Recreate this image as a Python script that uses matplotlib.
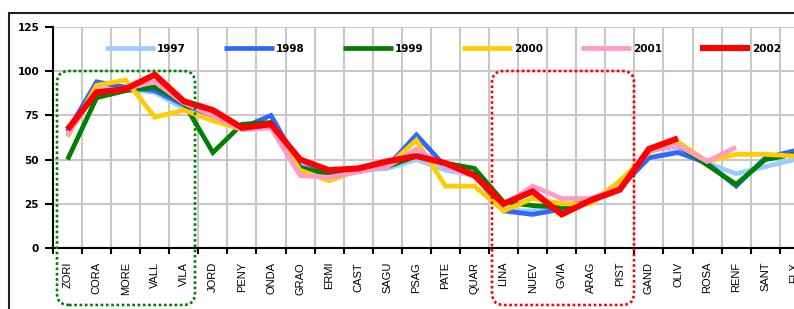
import numpy as np
import matplotlib
matplotlib.use("Agg")
import matplotlib.pyplot as plt
from matplotlib.patches import FancyBboxPatch, Rectangle
from matplotlib.transforms import IdentityTransform

nan = np.nan
categories = ['ZORI', 'CORA', 'MORE', 'VALL', 'VILA', 'JORD', 'PENY', 'ONDA', 'GRAO',
              'ERMI', 'CAST', 'SAGU', 'PSAG', 'PATE', 'QUAR', 'LINA', 'NUEV', 'GVIA',
              'ARAG', 'PIST', 'GAND', 'OLIV', 'ROSA', 'RENF', 'SANT', 'ELX']

s1997 = [65, 91, 90, 88, 79, 74, 67, 68, 42, 40, 44, 45, 50, 44, 41, 21, 21, 24, 27, 34, 51, 55, 48, 42, 46, 50]
s1998 = [66, 94, 91, 89, 81, 75, 68, 75, 46, 42, 44, 46, 64, 46, 42, 21, 19, 22, 27, 34, 51, 54, 48, 35, 51, 55]
s1999 = [50, 85, 89, 91, 82, 54, 70, 71, 45, 42, 44, 46, 52, 48, 45, 26, 24, 23, 27, 34, 55, 58, 47, 36, 50, 53]
s2000 = [63, 92, 95, 74, 78, 72, 67, 69, 44, 38, 44, 46, 61, 35, 35, 21, 28, 25, 25, 38, 54, 60, 49, 53, 53, 52]
s2001 = [64, 89, 90, 94, 82, 75, 67, 68, 41, 40, 43, 46, 56, 46, 41, 24, 35, 28, 28, 34, 55, 58, 49, 57, nan, nan]
s2002 = [67, 88, 90, 98, 83, 78, 68, 70, 50, 44, 45, 49, 52, 48, 41, 25, 32, 19, 27, 33, 56, 62, nan, nan, nan, nan]

series_names = ['1997', '1998', '1999', '2000', '2001', '2002']
series_vals = [s1997, s1998, s1999, s2000, s2001, s2002]
colors = ['#99ccff', '#3366ff', '#008000', '#ffcc00', '#ff99cc', '#ff0000']
widths = [3.4, 3.4, 3.4, 3.4, 3.4, 4.4]
yticks = [0, 25, 50, 75, 100, 125]

W, H = 794, 309
fig = plt.figure(figsize=(W / 100, H / 100), dpi=100)
fig.patch.set_facecolor('white')

n = len(categories)
x0, top, bottom = 53, 27, 248
cw = 29.07
ax = fig.add_axes([x0 / W, 1 - bottom / H, n * cw / W, (bottom - top) / H])
x = np.arange(n)
for name, vals, c, lw in zip(series_names, series_vals, colors, widths):
    ax.plot(x, vals, color=c, lw=lw, label=name, solid_joinstyle='miter', solid_capstyle='butt')

ax.set_xlim(-0.5, n - 0.5)
ax.set_ylim(0, 125)
ax.set_yticks(yticks)
ax.set_yticklabels([str(v) for v in yticks], fontsize=7.5, fontweight='bold', family='DejaVu Sans')
ax.set_xticks(x)
ax.set_xticklabels(categories, rotation=90, fontsize=8, family='Liberation Sans')
ax.set_xticks(np.arange(n + 1) - 0.5, minor=True)
ax.tick_params(axis='x', which='major', length=0, pad=10)
ax.tick_params(axis='x', which='minor', length=4, width=1.5, direction='out', color='black')
ax.tick_params(axis='y', length=6, width=1.5, direction='out', pad=4)
ax.grid(True, which='minor', axis='x', color='#c8c8c8', lw=1.5)
ax.grid(True, which='major', axis='y', color='#c8c8c8', lw=1.5)
ax.set_axisbelow(True)
for s in ['top', 'right']:
    ax.spines[s].set_visible(False)
for s in ['left', 'bottom']:
    ax.spines[s].set_linewidth(1.5)
    ax.spines[s].set_color('black')

leg = ax.legend(ncol=6, loc='center left', bbox_to_anchor=(105 / W, 1 - 49 / H),
                bbox_transform=fig.transFigure, frameon=False, handlelength=4.8,
                handletextpad=0.2, columnspacing=3.65, borderpad=0, borderaxespad=0,
                prop={'size': 7.5, 'weight': 'bold', 'family': 'DejaVu Sans'})

# Outer frame (pixel coordinates, origin bottom-left)
frame = Rectangle((9, -20), 900, H - 13 + 20, transform=IdentityTransform(),
                  fill=False, ec='#202020', lw=1.5, clip_on=False)
fig.add_artist(frame)

# Dotted rounded highlight boxes
def hbox(xl, xr, yt, yb, color):
    p = FancyBboxPatch((xl, H - yb), xr - xl, yb - yt,
                       boxstyle='round,pad=0,rounding_size=12',
                       transform=IdentityTransform(), fill=False, ec=color,
                       lw=1.9, linestyle=(0, (1, 1)), capstyle='butt', clip_on=False)
    fig.add_artist(p)

hbox(57, 195, 71, 305, '#008000')
hbox(492, 634, 71, 305, '#ff0000')

fig.savefig('out.png', dpi=100)
